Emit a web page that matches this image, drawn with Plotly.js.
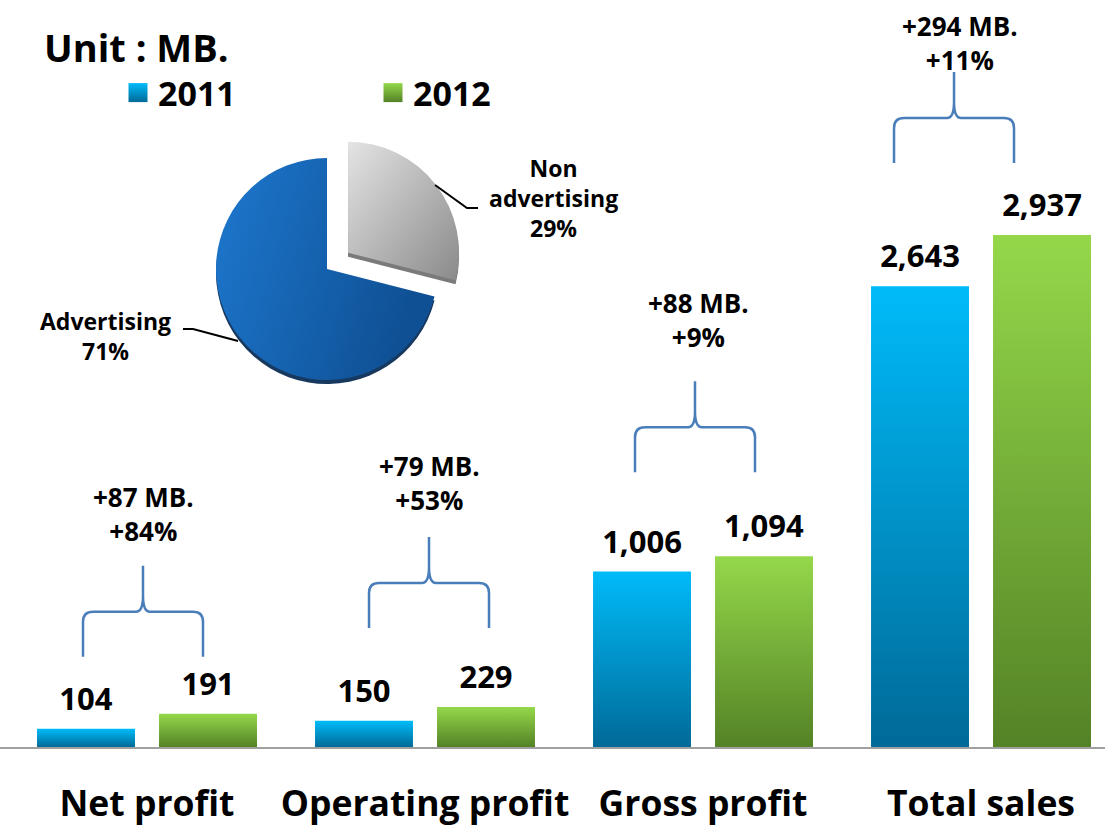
<!DOCTYPE html>
<html><head><meta charset="utf-8">
<script src="https://cdn.plot.ly/plotly-3.0.1.min.js"></script>
<style>html,body{margin:0;padding:0;background:#fff;} #chart{width:1105px;height:825px;}</style>
</head><body><div id="chart"></div>
<script>
// ---------- data ----------
const categories = ['Net profit', 'Operating profit', 'Gross profit', 'Total sales'];
const years = ['2011', '2012'];
const values2011 = [104, 150, 1006, 2643];
const values2012 = [191, 229, 1094, 2937];
const pieLabels = ['Non advertising', 'Advertising'];
const pieShares = [29, 71];
const unitLabel = 'Unit : MB.';

// ---------- layout constants ----------
const W = 1105, H = 825, M = {l: 0, r: 0, t: 0, b: 78};
const PLOT_W = W - M.l - M.r, PLOT_H = H - M.t - M.b;
const X_RANGE = [-0.5288, 3.4460];
const Y_RANGE = [0, 4285];
const pxPerX = PLOT_W / (X_RANGE[1] - X_RANGE[0]);
const pxPerY = PLOT_H / (Y_RANGE[1] - Y_RANGE[0]);
const dx = p => p / pxPerX, dy = p => p / pxPerY;
const paperX = px => (px - M.l) / PLOT_W, paperY = py => (PLOT_H + M.t - py) / PLOT_H;
const FONT = 'Open Sans, Noto Sans, DejaVu Sans, sans-serif';
const BRACE_SHIFT_PX = [-4, 4, -8, -27];
const TEXT_SHIFT_PX = [-4, 4, -5, -21];
const BRACE_LIFT_PX = [57, 79, 84, 72];
const TEXT_GAP_PX = [35, 37, 44, 12];
const BRACE_COLOR = '#4a7ebb';
const BAR_TEXT_LIFT_PX = 7;

const xIdx = categories.map((c, i) => i);

const bar2011 = {
  type: 'bar', name: years[0], x: xIdx, y: values2011,
  marker: {color: '#0093cc', line: {width: 0}},
  texttemplate: '%{y:,}', textposition: 'outside', cliponaxis: false, constraintext: 'none',
  textfont: {family: FONT, size: 31, color: '#000', weight: 700},
  hoverinfo: 'skip'
};
const bar2012 = {
  type: 'bar', name: years[1], x: xIdx, y: values2012,
  marker: {color: '#76b23f', line: {width: 0}},
  texttemplate: '%{y:,}', textposition: 'outside', cliponaxis: false, constraintext: 'none',
  textfont: {family: FONT, size: 31, color: '#000', weight: 700},
  hoverinfo: 'skip'
};

// pie geometry
const PIE_CX = 327, PIE_CY = 269, PIE_R = 111, PIE_PULL = 0.24;
const half = PIE_R * (1 + PIE_PULL);
const pieDomain = (shift) => ({
  x: [paperX(PIE_CX - half), paperX(PIE_CX + half)],
  y: [paperY(PIE_CY + half + shift), paperY(PIE_CY - half + shift)]
});
const pieShadow = {
  type: 'pie', labels: pieLabels, values: pieShares, sort: false, direction: 'clockwise', rotation: 0,
  pull: [PIE_PULL, 0], textinfo: 'none', hoverinfo: 'skip', showlegend: false,
  marker: {colors: ['#7a7a7a', '#17385f'], line: {width: 0}}, domain: pieDomain(4)
};
const pieMain = {
  type: 'pie', labels: pieLabels, values: pieShares, sort: false, direction: 'clockwise', rotation: 0,
  pull: [PIE_PULL, 0], textinfo: 'none', hoverinfo: 'skip', showlegend: false,
  marker: {colors: ['#b5b5b5', '#1766b5'], line: {width: 0}}, domain: pieDomain(0)
};

// braces + change annotations
const shapes = [], annotations = [];
function bracePath(cx, by) {
  const X = p => (cx + dx(p)).toFixed(4);
  const Y = p => (by + dy(p)).toFixed(2);
  const hw = 60, h = 45, r = 10, pk = 91, cw = 7, cu = 16;
  return `M${X(-hw)},${Y(0)} L${X(-hw)},${Y(h - r)} Q${X(-hw)},${Y(h)} ${X(-hw + r)},${Y(h)} L${X(-cw)},${Y(h)} Q${X(0)},${Y(h)} ${X(0)},${Y(h + cu)} L${X(0)},${Y(pk)} ` +
         `M${X(hw)},${Y(0)} L${X(hw)},${Y(h - r)} Q${X(hw)},${Y(h)} ${X(hw - r)},${Y(h)} L${X(cw)},${Y(h)} Q${X(0)},${Y(h)} ${X(0)},${Y(h + cu)}`;
}
categories.forEach((c, i) => {
  const cx = i + dx(BRACE_SHIFT_PX[i]);
  const by = Math.max(values2011[i], values2012[i]) + dy(BRACE_LIFT_PX[i]);
  shapes.push({type: 'path', xref: 'x', yref: 'y', path: bracePath(cx, by),
    line: {color: BRACE_COLOR, width: 2.5}, fillcolor: 'rgba(0,0,0,0)'});
  const diff = values2012[i] - values2011[i];
  const pct = Math.round(diff / values2011[i] * 100);
  annotations.push({xref: 'x', yref: 'y', x: i + dx(TEXT_SHIFT_PX[i]), y: by + dy(91), xanchor: 'center', yanchor: 'middle',
    yshift: TEXT_GAP_PX[i] + 17, showarrow: false,
    text: '+' + diff.toLocaleString('en-US') + ' MB.<br>+' + pct + '%',
    font: {family: FONT, size: 26, color: '#000', weight: 700}});
});

// pie labels and leader lines
annotations.push({xref: 'paper', yref: 'paper', x: paperX(553), y: paperY(198), xanchor: 'center', yanchor: 'middle',
  showarrow: false, text: pieLabels[0].replace(' ', '<br>') + '<br>' + pieShares[0] + '%',
  font: {family: FONT, size: 23, color: '#000', weight: 700}});
annotations.push({xref: 'paper', yref: 'paper', x: paperX(105), y: paperY(336), xanchor: 'center', yanchor: 'middle',
  showarrow: false, text: pieLabels[1] + '<br>' + pieShares[1] + '%',
  font: {family: FONT, size: 23, color: '#000', weight: 700}});
const P = (x, y) => paperX(x).toFixed(4) + ',' + paperY(y).toFixed(4);
shapes.push({type: 'path', xref: 'paper', yref: 'paper', path: `M${P(435,185)} L${P(467,208)} L${P(478,208)}`,
  line: {color: '#000', width: 2}, fillcolor: 'rgba(0,0,0,0)'});
shapes.push({type: 'path', xref: 'paper', yref: 'paper', path: `M${P(183,329)} L${P(193,329)} L${P(238,341)}`,
  line: {color: '#000', width: 2}, fillcolor: 'rgba(0,0,0,0)'});

// unit label
annotations.push({xref: 'paper', yref: 'paper', x: paperX(42), y: paperY(47), xanchor: 'left', yanchor: 'middle',
  showarrow: false, text: unitLabel, font: {family: FONT, size: 38, color: '#000', weight: 700}});

const layout = {
  width: W, height: H, margin: M, paper_bgcolor: '#fff', plot_bgcolor: '#fff',
  barmode: 'group', bargap: 0.1223, bargroupgap: 0.197,
  showlegend: true,
  legend: {orientation: 'h', x: paperX(118), xanchor: 'left', y: paperY(93), yanchor: 'middle',
    font: {family: FONT, size: 34, color: '#000', weight: 700}, entrywidth: 210, bgcolor: 'rgba(0,0,0,0)',
    traceorder: 'normal'},
  xaxis: {range: X_RANGE, tickvals: xIdx, ticktext: categories, showgrid: false, zeroline: false,
    showline: true, linecolor: '#a0a0a0', linewidth: 2, ticks: '', ticklabelstandoff: 24,
    tickfont: {family: FONT, size: 35.5, color: '#000', weight: 700}, fixedrange: true},
  yaxis: {range: Y_RANGE, showgrid: false, zeroline: false, showline: false, showticklabels: false, ticks: '', fixedrange: true},
  shapes: shapes, annotations: annotations
};

const gd = document.getElementById('chart');
Plotly.newPlot(gd, [pieShadow, pieMain, bar2011, bar2012], layout, {staticPlot: true, displayModeBar: false}).then(() => {
  const NS = 'http://www.w3.org/2000/svg';
  const svg = gd.querySelector('.main-svg');
  let defs = svg.querySelector('defs');
  if (!defs) { defs = document.createElementNS(NS, 'defs'); svg.insertBefore(defs, svg.firstChild); }
  function grad(id, x1, y1, x2, y2, stops) {
    const g = document.createElementNS(NS, 'linearGradient');
    g.setAttribute('id', id);
    g.setAttribute('x1', x1); g.setAttribute('y1', y1); g.setAttribute('x2', x2); g.setAttribute('y2', y2);
    stops.forEach(([o, c]) => {
      const s = document.createElementNS(NS, 'stop');
      s.setAttribute('offset', o); s.setAttribute('stop-color', c);
      g.appendChild(s);
    });
    defs.appendChild(g);
  }
  grad('gBlue', 0, 0, 0, 1, [[0, '#00bbf9'], [1, '#006a98']]);
  grad('gGreen', 0, 0, 0, 1, [[0, '#94d84a'], [1, '#548226']]);
  grad('gPieBlue', 0, 0, 1, 0.3, [[0, '#1d78cf'], [1, '#0f5094']]);
  grad('gPieGray', 0, 0, 1, 1, [[0, '#e4e4e4'], [1, '#8a8a8a']]);
  const barGrads = ['url(#gBlue)', 'url(#gGreen)'];
  gd.querySelectorAll('.barlayer .trace').forEach((t, k) => {
    t.querySelectorAll('.point path').forEach(p => { p.style.fill = barGrads[k]; });
    t.querySelectorAll('.point text').forEach(tx => {
      tx.setAttribute('transform', 'translate(0,' + (-BAR_TEXT_LIFT_PX) + ') ' + (tx.getAttribute('transform') || ''));
    });
  });
  gd.querySelectorAll('.legend .traces').forEach((t, k) => {
    t.querySelectorAll('.legendpoints path').forEach(p => {
      p.setAttribute('d', 'M9.5,9.5H-9.5V-9.5H9.5Z');
      p.style.fill = barGrads[k];
    });
  });
  const pieTraces = gd.querySelectorAll('.pielayer .trace');
  if (pieTraces.length > 1) {
    const surf = pieTraces[1].querySelectorAll('.slice path.surface');
    if (surf[0]) surf[0].style.fill = 'url(#gPieGray)';
    if (surf[1]) surf[1].style.fill = 'url(#gPieBlue)';
  }
});
</script>
</body></html>
